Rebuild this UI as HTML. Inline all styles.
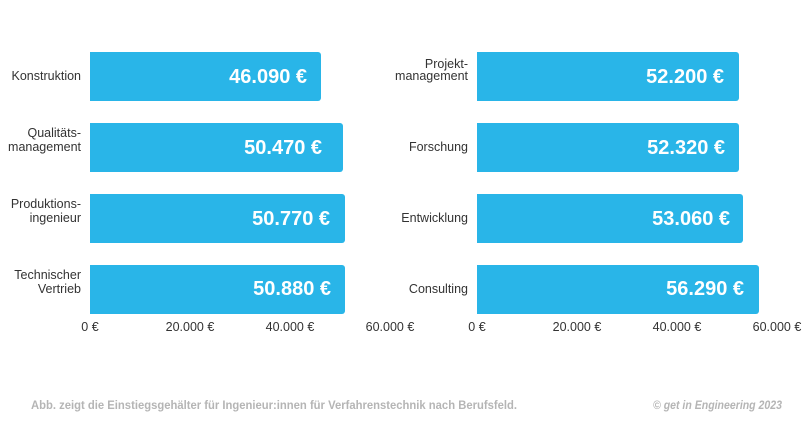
<!DOCTYPE html>
<html><head><meta charset="utf-8"><style>html,body{margin:0;padding:0;background:#fff}svg{display:block}</style></head>
<body>
<svg width="806" height="423" xmlns="http://www.w3.org/2000/svg" font-family="Liberation Sans, sans-serif">
<g fill="#29b5e8">
<path d="M90 52H318a3 3 0 0 1 3 3V98a3 3 0 0 1-3 3H90Z"/>
<path d="M90 123H340a3 3 0 0 1 3 3V169a3 3 0 0 1-3 3H90Z"/>
<path d="M90 194H342a3 3 0 0 1 3 3V240a3 3 0 0 1-3 3H90Z"/>
<path d="M90 265H342a3 3 0 0 1 3 3V311a3 3 0 0 1-3 3H90Z"/>
<path d="M477 52H736a3 3 0 0 1 3 3V98a3 3 0 0 1-3 3H477Z"/>
<path d="M477 123H736a3 3 0 0 1 3 3V169a3 3 0 0 1-3 3H477Z"/>
<path d="M477 194H740a3 3 0 0 1 3 3V240a3 3 0 0 1-3 3H477Z"/>
<path d="M477 265H756a3 3 0 0 1 3 3V311a3 3 0 0 1-3 3H477Z"/>
</g>
<g fill="#fff" font-weight="bold" font-size="20" text-anchor="end">
<text x="307" y="83">46.090 €</text>
<text x="322" y="154">50.470 €</text>
<text x="330" y="225">50.770 €</text>
<text x="331" y="295">50.880 €</text>
<text x="724" y="83">52.200 €</text>
<text x="725" y="154">52.320 €</text>
<text x="730" y="225">53.060 €</text>
<text x="744" y="295">56.290 €</text>
</g>
<g fill="#333" font-size="12.5" text-anchor="end">
<text x="81" y="80">Konstruktion</text>
<text x="81" y="137">Qualitäts-</text><text x="81" y="151">management</text>
<text x="81" y="208">Produktions-</text><text x="81" y="222">ingenieur</text>
<text x="81" y="279">Technischer</text><text x="81" y="293">Vertrieb</text>
<text x="468" y="68">Projekt-</text><text x="468" y="80">management</text>
<text x="468" y="151">Forschung</text>
<text x="468" y="222">Entwicklung</text>
<text x="468" y="293">Consulting</text>
</g>
<g fill="#333" font-size="12.5" text-anchor="middle">
<text x="90" y="331">0 €</text><text x="190" y="331">20.000 €</text><text x="290" y="331">40.000 €</text><text x="390" y="331">60.000 €</text>
<text x="477" y="331">0 €</text><text x="577" y="331">20.000 €</text><text x="677" y="331">40.000 €</text><text x="777" y="331">60.000 €</text>
</g>
<text x="31" y="409" fill="#b5b5b5" font-size="11.5" font-weight="bold" textLength="486" lengthAdjust="spacingAndGlyphs">Abb. zeigt die Einstiegsgehälter für Ingenieur:innen für Verfahrenstechnik nach Berufsfeld.</text>
<text x="653" y="409" fill="#b5b5b5" font-size="11.5" font-weight="bold" font-style="italic" textLength="129" lengthAdjust="spacingAndGlyphs">© get in Engineering 2023</text>
</svg>
</body></html>
